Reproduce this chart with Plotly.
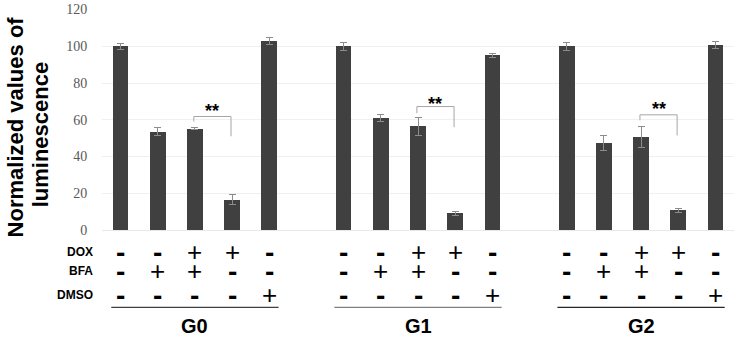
import plotly.graph_objects as go

groups = ["G0", "G1", "G2"]
values_g0 = [100, 53.5, 55.2, 16.5, 103]
err_g0 = [1.6, 2.2, 0.7, 2.8, 2.0]
values_g1 = [100, 61, 56.4, 9.1, 95]
err_g1 = [2.1, 2.1, 5.0, 1.1, 0.9]
values_g2 = [100, 47.5, 50.7, 10.7, 100.6]
err_g2 = [2.1, 4.2, 5.6, 0.9, 1.8]

row_labels = ["DOX", "BFA", "DMSO"]
dox = ["-", "-", "+", "+", "-"]
bfa = ["-", "+", "+", "-", "-"]
dmso = ["-", "-", "-", "-", "+"]

# significance brackets (bar 3 vs bar 4 in each group)
sig_top = [61.8, 67.2, 62.7]
sig_left_end = [59.0, 63.6, 59.7]
sig_right_end = [51.0, 56.0, 51.5]
sig_text_y = [58.3, 62.0, 59.4]
sig_label = "**"

y_ticks = [0, 20, 40, 60, 80, 100, 120]

W, H = 736, 337
ML, MR, MT, MB = 102, 2, 6, 107
PW, PH = W - ML - MR, H - MT - MB
GAP = 6  # category slots per group (5 bars + 1 empty)

all_vals = [values_g0, values_g1, values_g2]
all_errs = [err_g0, err_g1, err_g2]

xs, ys, es = [], [], []
for g, (vals, errs) in enumerate(zip(all_vals, all_errs)):
    for i, (v, e) in enumerate(zip(vals, errs)):
        xs.append(g * GAP + i)
        ys.append(v)
        es.append(e)

BAR = "#404040"
fig = go.Figure()
fig.add_trace(go.Bar(
    x=xs, y=ys, width=0.42, marker=dict(color=BAR, line=dict(width=0)),
    error_y=dict(type="data", array=es, visible=True, color="#8c8c8c", thickness=1, width=3.5),
    showlegend=False, hoverinfo="skip",
))

def ypaper(py):
    return (H - MB - py) / PH

def xpaper(px):
    return (px - ML) / PW

def xdata_to_paper(x):
    return (x + 0.5) / 17

ann = []
shapes = []

# significance brackets
for g in range(3):
    xl = g * GAP + 2 - 0.03
    xr = g * GAP + 3 - 0.03
    c = "#a6a6a6"
    shapes.append(dict(type="line", xref="x", yref="y", x0=xl, x1=xr, y0=sig_top[g], y1=sig_top[g], line=dict(color=c, width=1)))
    shapes.append(dict(type="line", xref="x", yref="y", x0=xl, x1=xl, y0=sig_top[g], y1=sig_left_end[g], line=dict(color=c, width=1)))
    shapes.append(dict(type="line", xref="x", yref="y", x0=xr, x1=xr, y0=sig_top[g], y1=sig_right_end[g], line=dict(color=c, width=1)))
    ann.append(dict(text=sig_label, x=(xl + xr) / 2, y=sig_text_y[g], xref="x", yref="y",
                    showarrow=False, font=dict(family="Liberation Sans", size=18, color="black", weight="bold"),
                    xanchor="center", yanchor="bottom"))

# treatment table
row_py = [252, 272, 296]
rows = [dox, bfa, dmso]
for r, (lab, py) in enumerate(zip(row_labels, row_py)):
    ann.append(dict(text=lab, x=xpaper(95), y=ypaper(py), xref="paper", yref="paper",
                    showarrow=False, xanchor="right", yanchor="middle",
                    font=dict(family="Liberation Sans", size=12, color="black", weight="bold")))
    for g in range(3):
        for i, s in enumerate(rows[r]):
            if s == "+":
                f = dict(family="Liberation Sans", size=26, color="black")
            else:
                f = dict(family="Liberation Sans", size=28, color="black", weight="bold")
            ann.append(dict(text=s, x=g * GAP + i, y=ypaper(py), xref="x", yref="paper",
                            showarrow=False, xanchor="center", yanchor="middle", font=f,
                            height=16, valign="middle"))

line_cols = ["#404040", "#7f7f7f", "#262626"]
for g, name in enumerate(groups):
    c = g * GAP + 2
    shapes.append(dict(type="line", xref="paper", yref="paper",
                       x0=xdata_to_paper(c - 2.25), x1=xdata_to_paper(c + 2.25),
                       y0=ypaper(308.5), y1=ypaper(308.5), line=dict(color=line_cols[g], width=1.2)))
    ann.append(dict(text=name, x=c, y=ypaper(327), xref="x", yref="paper", showarrow=False,
                    xanchor="center", yanchor="middle",
                    font=dict(family="Liberation Sans", size=20, color="black", weight="bold")))

# y-axis title (two lines)
ann.append(dict(text="Normalized values of", x=xpaper(15), y=ypaper(125), xref="paper", yref="paper",
                showarrow=False, textangle=-90, xanchor="center", yanchor="middle",
                font=dict(family="Liberation Sans", size=22, color="black", weight="bold")))
ann.append(dict(text="luminescence", x=xpaper(40), y=ypaper(133), xref="paper", yref="paper",
                showarrow=False, textangle=-90, xanchor="center", yanchor="middle",
                font=dict(family="Liberation Sans", size=22, color="black", weight="bold")))

fig.update_layout(
    width=W, height=H,
    margin=dict(l=ML, r=MR, t=MT, b=MB, pad=0),
    paper_bgcolor="white", plot_bgcolor="white",
    xaxis=dict(range=[-0.5, 16.5], showticklabels=False, showgrid=False, zeroline=False,
               showline=False, ticks=""),
    yaxis=dict(range=[0, 120.3], tickvals=y_ticks, showgrid=True, gridcolor="#f0f0f0", gridwidth=1,
               zeroline=True, zerolinecolor="#e8e8e8", zerolinewidth=1, showline=False,
               ticks="outside", ticklen=11, tickcolor="rgba(0,0,0,0)", ticklabeloverflow="allow",
               tickfont=dict(family="Liberation Serif", size=14, color="#595959")),
    annotations=ann, shapes=shapes, bargap=0,
)

fig.write_html("out.html", config={"displayModeBar": False},
               post_script="document.body.style.margin='0px';document.body.style.padding='0px';")
